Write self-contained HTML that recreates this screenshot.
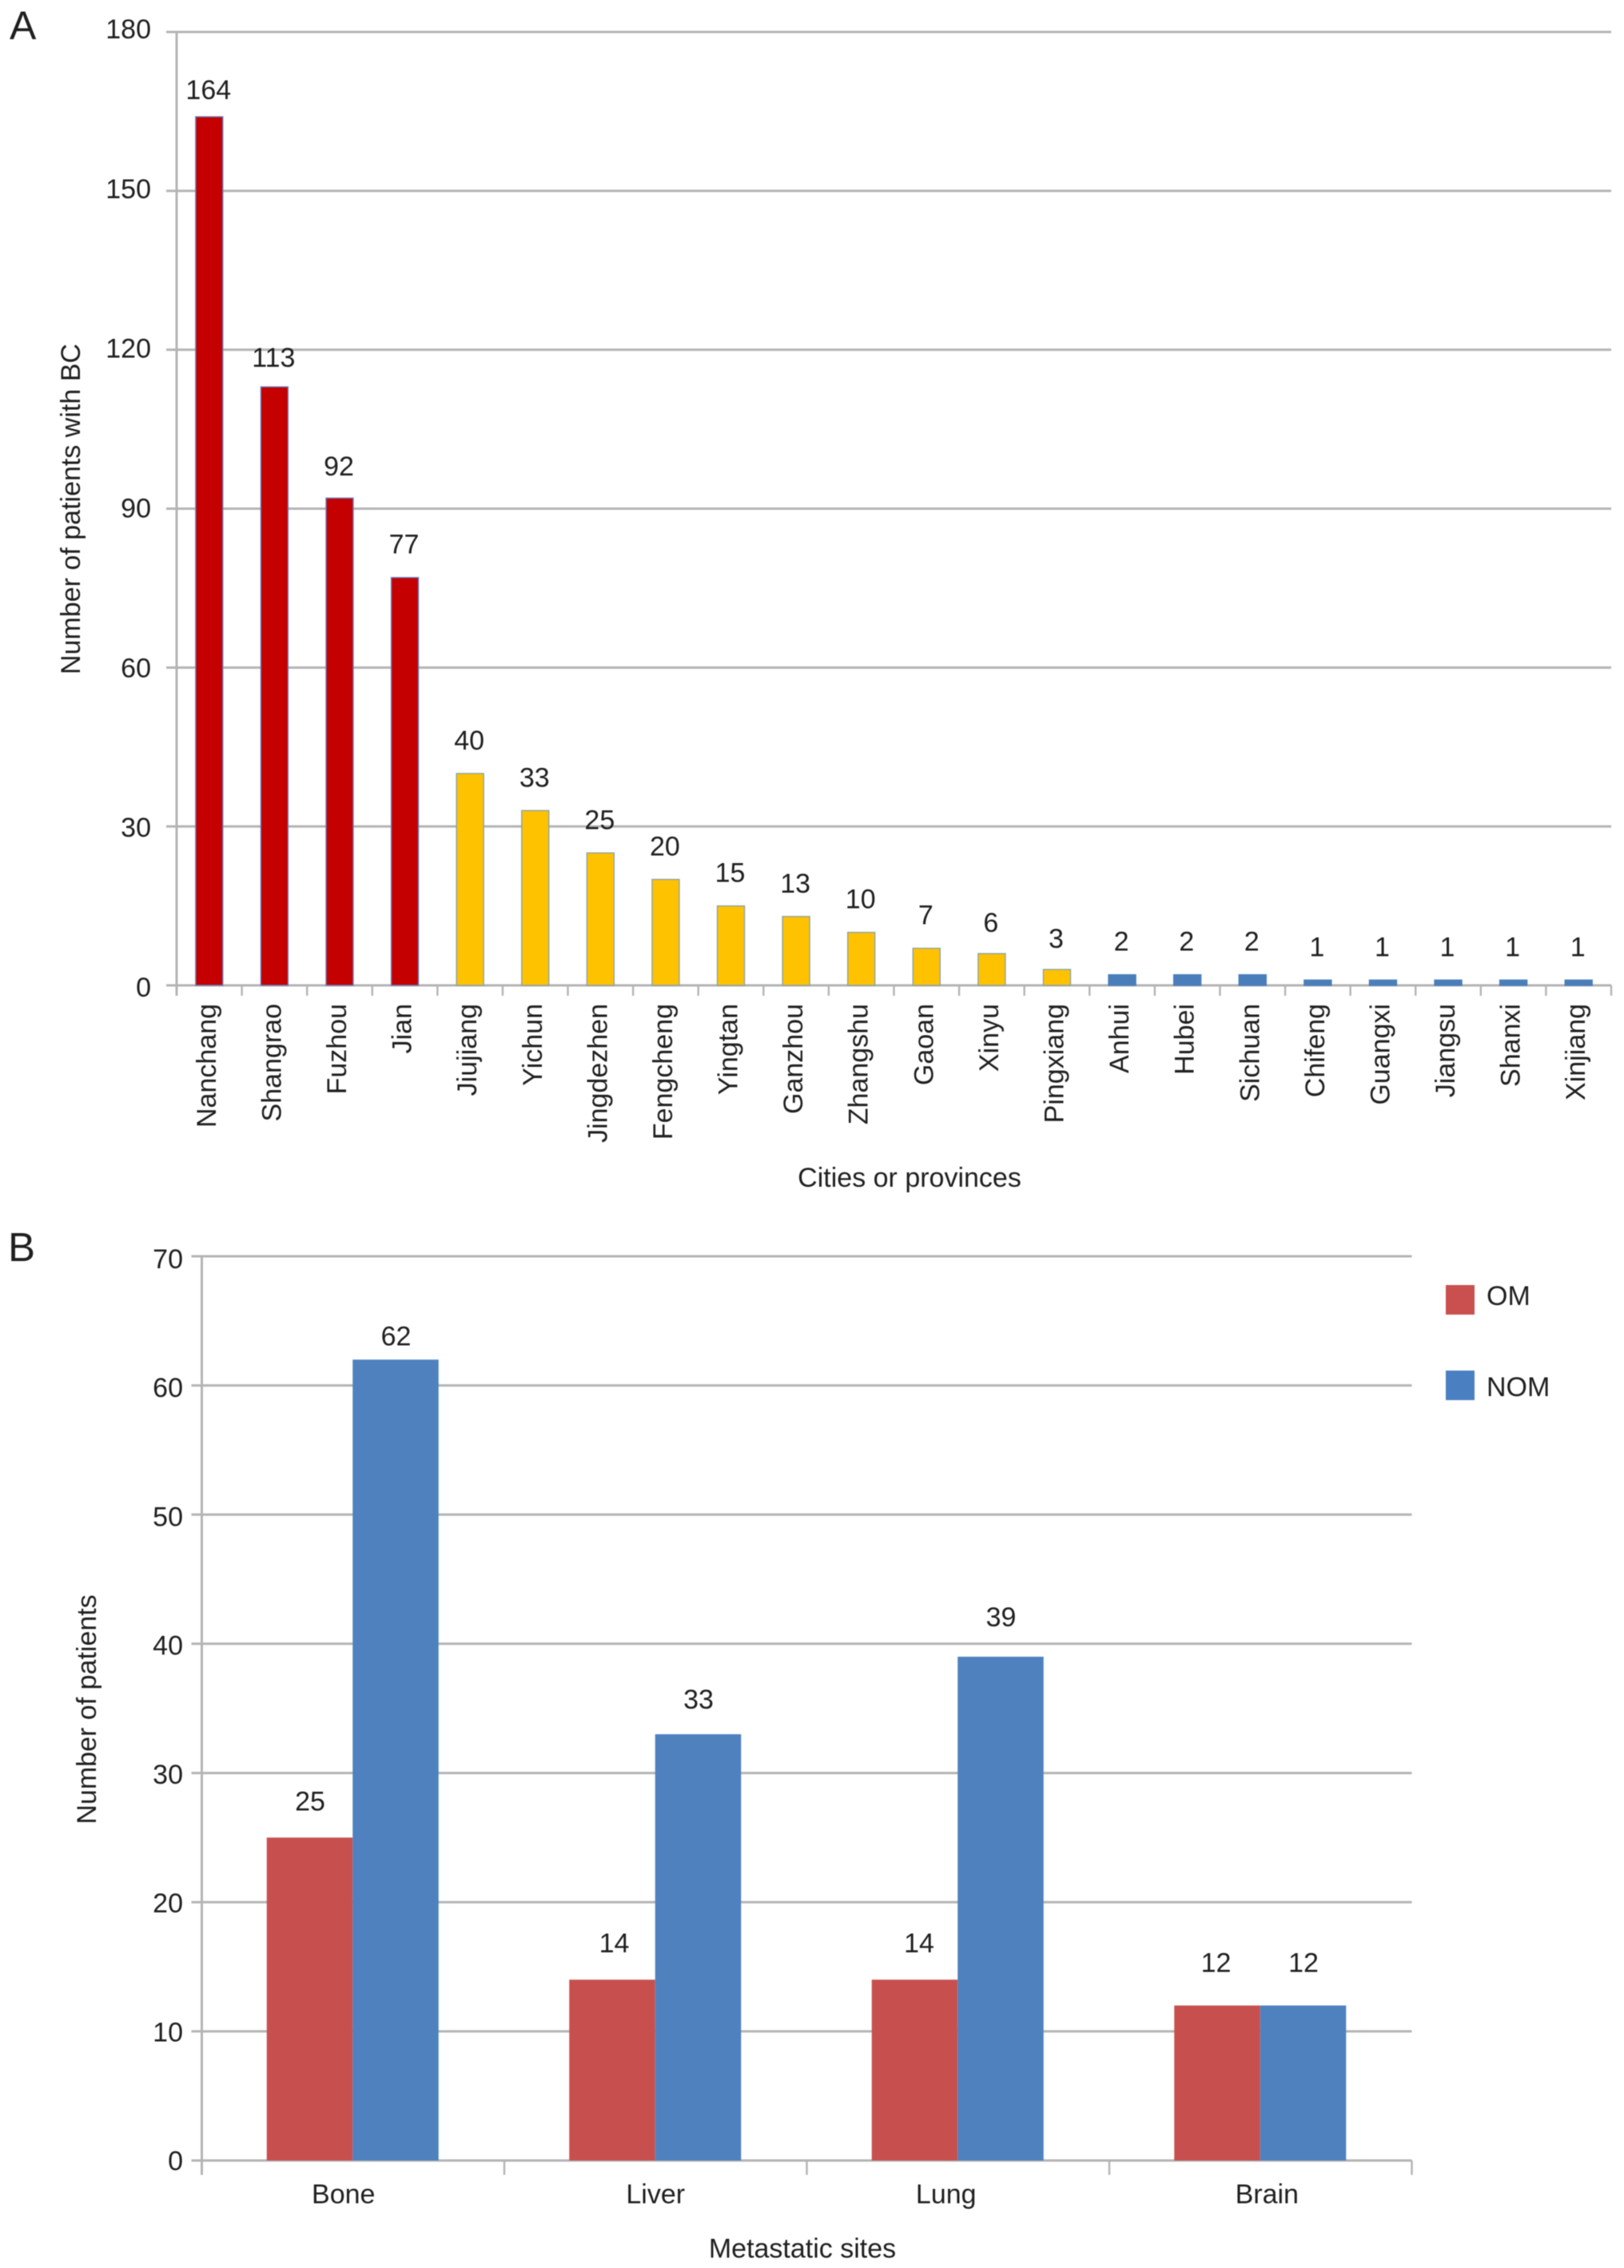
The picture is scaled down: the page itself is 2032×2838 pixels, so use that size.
<!DOCTYPE html>
<html lang="en">
<head>
<meta charset="utf-8">
<title>Breast cancer patients by region and metastatic site</title>
<style>
html,body{margin:0;padding:0;background:#fff;}
svg{display:block;filter:blur(0.6px);}
text{font-family:"Liberation Sans",Arial,sans-serif;fill:#1f1f1f;}
</style>
</head>
<body>
<svg id="figure" xmlns="http://www.w3.org/2000/svg" width="2032" height="2838" viewBox="0 0 2032 2838">
  <rect x="0" y="0" width="2032" height="2838" fill="#ffffff"/>
  <text x="12" y="49" font-size="50">A</text>
  <text x="10" y="1578" font-size="51">B</text>
  <g id="chart-a"></g>
  <g id="chart-b"></g>
  <text transform="translate(100 637) rotate(-90)" text-anchor="middle" font-size="34">Number of patients with BC</text>
  <text x="1138" y="1485" text-anchor="middle" font-size="34">Cities or provinces</text>
  <text transform="translate(120 2139) rotate(-90)" text-anchor="middle" font-size="34">Number of patients</text>
  <text x="1004" y="2825" text-anchor="middle" font-size="34">Metastatic sites</text>
  <g>
    <rect x="1809" y="1608" width="36" height="37" fill="#c9504f"/>
    <text x="1860" y="1633" font-size="34">OM</text>
    <rect x="1809" y="1715" width="36" height="37" fill="#4a80c2"/>
    <text x="1860" y="1747" font-size="34">NOM</text>
  </g>
</svg>
<script>
// ---------- Chart A data ----------
const cityNames = ["Nanchang","Shangrao","Fuzhou","Jian","Jiujiang","Yichun","Jingdezhen","Fengcheng","Yingtan","Ganzhou","Zhangshu","Gaoan","Xinyu","Pingxiang","Anhui","Hubei","Sichuan","Chifeng","Guangxi","Jiangsu","Shanxi","Xinjiang"];
const cityPatients = [164,113,92,77,40,33,25,20,15,13,10,7,6,3,2,2,2,1,1,1,1,1];
const cityTicks = [0,30,60,90,120,150,180];

// ---------- Chart B data ----------
const siteNames = ["Bone","Liver","Lung","Brain"];
const omPatients = [25,14,14,12];
const nomPatients = [62,33,39,12];
const siteTicks = [0,10,20,30,40,50,60,70];

// ---------- Helpers ----------
const NS = "http://www.w3.org/2000/svg";
const GRID = "#b4b4b4";
function make(parent, tag, attrs, content) {
  const el = document.createElementNS(NS, tag);
  for (const k in attrs) el.setAttribute(k, attrs[k]);
  if (content !== undefined) el.textContent = content;
  parent.appendChild(el);
  return el;
}

// ---------- Chart A ----------
(function () {
  const root = document.getElementById("chart-a");
  const x0 = 221, x1 = 2016, yZero = 1233, yTop = 40, vMax = 180;
  const y = v => yZero - (v / vMax) * (yZero - yTop);
  const band = (x1 - x0) / cityNames.length;
  const cx = i => x0 + band * (i + 0.5);
  const barW = 34;
  const fillOf = i => i < 4 ? "#c40000" : i < 14 ? "#ffc200" : "#4a7ebb";
  const edgeOf = i => i < 4 ? "#6a7fc0" : i < 14 ? "#8aa3a8" : "#4a7ebb";
  const gapOf = v => v >= 150 ? 22 : v >= 100 ? 25 : v === 92 ? 28 : v === 6 || v === 3 ? 27 : 30;

  cityTicks.forEach(t => {
    const line = make(root, "line", {x1: x0 - 13, x2: x1, y1: y(t), y2: y(t), stroke: GRID, "stroke-width": 3});
    
    
    const label = make(root, "text", {x: 189, y: y(t) + 8 + 6 * (vMax - t) / vMax, "text-anchor": "end", "font-size": 34}, String(t));
    
    
  });

  const axis = make(root, "line", {x1: x0, x2: x0, y1: yTop, y2: yZero + 13, stroke: GRID, "stroke-width": 3});
  
  

  for (let i = 0; i <= cityNames.length; i++) {
    const tick = make(root, "line", {x1: x0 + band * i, x2: x0 + band * i, y1: yZero, y2: yZero + 13, stroke: GRID, "stroke-width": 2.4});
    
    
  }

  cityNames.forEach((name, i) => {
    const v = cityPatients[i];
    const bar = make(root, "rect", {x: cx(i) - barW / 2, y: y(v), width: barW, height: yZero - y(v), fill: fillOf(i), stroke: edgeOf(i), "stroke-width": 1.4});
    
    
    const value = make(root, "text", {x: cx(i) - 1, y: y(v) - gapOf(v), "text-anchor": "middle", "font-size": 34}, String(v));
    
    
    const lx = cx(i) + 8, ly = 1256;
    const label = make(root, "text", {x: lx, y: ly, transform: "rotate(-90 " + lx + " " + ly + ")", "text-anchor": "end", "font-size": 34}, name);
    
    
  });
})();

// ---------- Chart B ----------
(function () {
  const root = document.getElementById("chart-b");
  const x0 = 252.5, x1 = 1766.5, yZero = 2703.5, yTop = 1572, vMax = 70;
  const y = v => yZero - (v / vMax) * (yZero - yTop);
  const band = (x1 - x0) / siteNames.length;
  const cx = i => x0 + band * (i + 0.5);
  const barW = 107.5;
  const catShift = [-12, 0, -15, 8];
  const omLabelShift = [0, 2, 5, -2];
  const gapOf = v => v >= 50 ? 18 : v >= 35 ? 38 : v >= 30 ? 32 : v >= 13 ? 34 : 42;

  siteTicks.forEach(t => {
    const line = make(root, "line", {x1: x0 - 13, x2: x1, y1: y(t), y2: y(t), stroke: GRID, "stroke-width": 3});
    
    
    const label = make(root, "text", {x: 229, y: y(t) + 12 + 3 * t / vMax, "text-anchor": "end", "font-size": 34}, String(t));
    
    
  });

  const axis = make(root, "line", {x1: x0, x2: x0, y1: yTop, y2: yZero + 18, stroke: GRID, "stroke-width": 3});
  
  

  for (let i = 1; i <= siteNames.length; i++) {
    const tick = make(root, "line", {x1: x0 + band * i, x2: x0 + band * i, y1: yZero, y2: yZero + 18, stroke: GRID, "stroke-width": 2.4});
    
    
  }

  siteNames.forEach((name, i) => {
    const om = omPatients[i], nom = nomPatients[i];
    const barOm = make(root, "rect", {x: cx(i) - barW - 0.5, y: y(om), width: barW, height: yZero - y(om), fill: "#c7504f"});
    
    
    const barNom = make(root, "rect", {x: cx(i) - 0.5, y: y(nom), width: barW, height: yZero - y(nom), fill: "#4f81bf"});
    
    
    const valOm = make(root, "text", {x: cx(i) - barW / 2 + omLabelShift[i], y: y(om) - gapOf(om), "text-anchor": "middle", "font-size": 34}, String(om));
    
    
    const valNom = make(root, "text", {x: cx(i) + barW / 2, y: y(nom) - gapOf(nom), "text-anchor": "middle", "font-size": 34}, String(nom));
    
    
    const label = make(root, "text", {x: cx(i) + catShift[i], y: 2757, "text-anchor": "middle", "font-size": 34}, name);
    
    
  });
})();
</script>
</body>
</html>
